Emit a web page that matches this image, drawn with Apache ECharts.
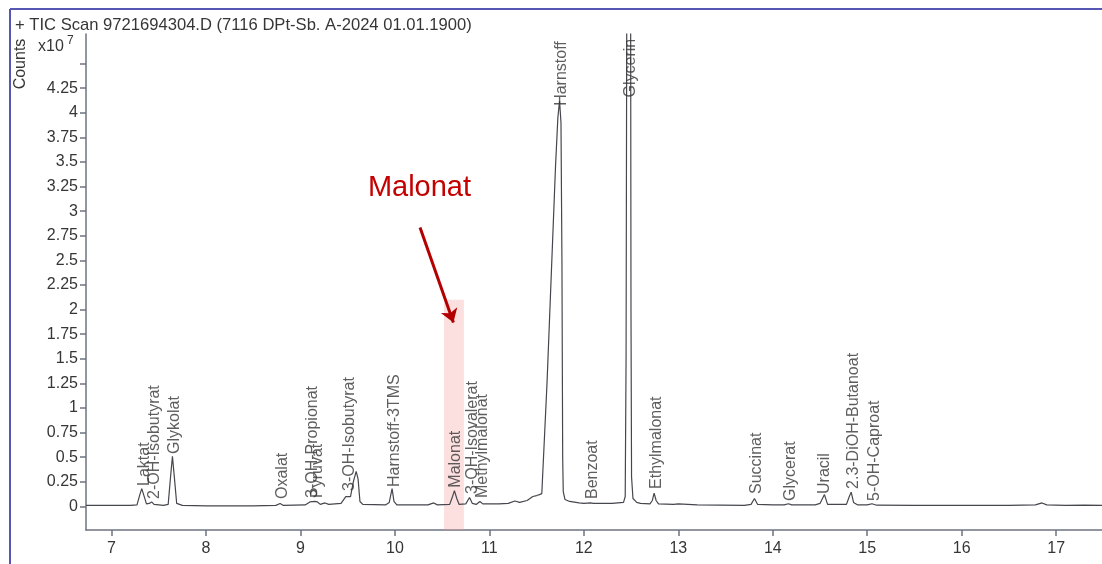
<!DOCTYPE html>
<html>
<head>
<meta charset="utf-8">
<title>TIC Scan</title>
<script src="https://cdn.jsdelivr.net/npm/echarts@6/dist/echarts.min.js"></script>
<style>
  html, body { margin: 0; padding: 0; background: #fff; }
  #chart { width: 1102px; height: 564px; }
</style>
</head>
<body>
<div id="chart"></div>
<script>
// retention time (min) / counts (x10^7)
const traceTime = [
  6.73, 7.0, 7.2, 7.27, 7.30, 7.32, 7.34, 7.37, 7.40, 7.425, 7.45, 7.55, 7.60, 7.625, 7.645, 7.665, 7.69, 7.75,
  8.0, 8.5, 8.74, 8.785, 8.82, 9.05, 9.10, 9.15, 9.18, 9.21, 9.26, 9.30, 9.43, 9.48, 9.50, 9.53, 9.56, 9.59, 9.61,
  9.63, 9.66, 9.90, 9.94, 9.97, 9.99, 10.02, 10.35, 10.41, 10.45, 10.58, 10.61, 10.63, 10.655, 10.68, 10.75, 10.79,
  10.82, 10.86, 10.90, 10.93, 11.10, 11.20, 11.27, 11.32, 11.40, 11.46, 11.50, 11.53, 11.555, 11.61, 11.70, 11.725,
  11.743, 11.758, 11.768, 11.776, 11.782, 11.80, 11.85, 11.95, 12.0, 12.07, 12.10, 12.30, 12.42, 12.438, 12.447,
  12.455, 12.475, 12.495, 12.499, 12.505, 12.52, 12.56, 12.60, 12.70, 12.725, 12.744, 12.765, 12.79, 12.95, 13.0,
  13.2, 13.7, 13.77, 13.806, 13.84, 14.0, 14.12, 14.166, 14.2, 14.45, 14.50, 14.547, 14.58, 14.78, 14.81, 14.83,
  14.855, 14.9, 15.0, 15.05, 15.1, 15.5, 16.0, 16.5, 16.78, 16.85, 16.9, 17.1, 17.3, 17.485
];
const traceCounts = [
  0.01, 0.01, 0.01, 0.015, 0.12, 0.18, 0.12, 0.025, 0.03, 0.045, 0.02, 0.01, 0.02, 0.3, 0.51, 0.3, 0.03, 0.01,
  0.005, 0.005, 0.01, 0.03, 0.01, 0.015, 0.045, 0.05, 0.045, 0.02, 0.035, 0.02, 0.03, 0.10, 0.11, 0.10, 0.25, 0.355, 0.28,
  0.05, 0.02, 0.015, 0.04, 0.18, 0.05, 0.015, 0.015, 0.035, 0.015, 0.02, 0.10, 0.16, 0.08, 0.02, 0.025, 0.09,
  0.03, 0.02, 0.05, 0.025, 0.025, 0.03, 0.055, 0.04, 0.06, 0.10, 0.11, 0.12, 0.13, 1.25, 3.45, 3.95,
  4.12, 3.9, 2.5, 0.5, 0.15, 0.07, 0.05, 0.035, 0.03, 0.035, 0.03, 0.03, 0.04, 0.1, 1.5,
  5.4, 5.8, 5.4, 2.0, 0.3, 0.08, 0.04, 0.03, 0.025, 0.06, 0.135, 0.06, 0.025, 0.02, 0.025,
  0.015, 0.01, 0.02, 0.08, 0.02, 0.015, 0.015, 0.027, 0.015, 0.015, 0.03, 0.12, 0.02, 0.02, 0.1, 0.145,
  0.04, 0.015, 0.015, 0.027, 0.012, 0.01, 0.01, 0.01, 0.015, 0.035, 0.015, 0.01, 0.012, 0.01
];

// peak names, where each label sits and where its text starts
const peakNames = [
  'Laktat', '2-OH-Isobutyrat', 'Glykolat', 'Oxalat', '3-OH-Propionat', 'Pyruvat', '3-OH-Isobutyrat',
  'Harnstoff-3TMS', 'Malonat', '3-OH-Isovalerat', 'Methylmalonat', 'Harnstoff', 'Benzoat', 'Glycerin',
  'Ethylmalonat', 'Succinat', 'Glycerat', 'Uracil', '2.3-DiOH-Butanoat', '5-OH-Caproat'
];
const peakTime = [
  7.323, 7.429, 7.64, 8.784, 9.102, 9.155, 9.49,
  9.97, 10.616, 10.796, 10.902, 11.738, 12.066, 12.469,
  12.744, 13.803, 14.163, 14.523, 14.83, 15.052
];
const peakLabelBase = [
  0.207, 0.075, 0.533, 0.075, 0.085, 0.085, 0.157,
  0.197, 0.19, 0.126, 0.085, 4.07, 0.075, 4.155,
  0.177, 0.126, 0.055, 0.126, 0.177, 0.055
];

const xTicks = [7, 8, 9, 10, 11, 12, 13, 14, 15, 16, 17];
const yTicks = [0, 0.25, 0.5, 0.75, 1, 1.25, 1.5, 1.75, 2, 2.25, 2.5, 2.75, 3, 3.25, 3.5, 3.75, 4, 4.25, 4.5];
const yLabels = yTicks.slice(0, -1); // 4.5 has a tick but no label

// highlighted Malonat window and the arrow pointing at it
const malonatWindow = [10.52, 10.73, 2.1];
const arrowFrom = [10.266, 2.835];
const arrowTo = [10.619, 1.869];
const noteAt = [10.26, 3.24];

const FONT = '"Liberation Sans", Arial, sans-serif';
const TEXT = '#363636';
const AXIS = '#6e7380';

const chart = echarts.init(document.getElementById('chart'));

const option = {
  animation: false,
  backgroundColor: '#fff',
  textStyle: { fontFamily: FONT },
  title: {
    text: '+ TIC Scan 9721694304.D (7116 DPt-Sb. A-2024 01.01.1900)',
    left: 10,
    top: 12,
    textStyle: { fontFamily: FONT, fontSize: 16.6, fontWeight: 'normal', color: TEXT },
  },
  grid: {
    left: 86,
    right: 0,
    top: 34,
    bottom: 34,
  },
  xAxis: {
    type: 'value',
    min: 6.73,
    max: 17.485,
    axisLine: { onZero: false, lineStyle: { color: AXIS, width: 1.5 } },
    axisTick: { length: 6, customValues: xTicks, lineStyle: { color: AXIS, width: 1.5 } },
    axisLabel: { customValues: xTicks, color: TEXT, fontSize: 16, margin: 11, fontFamily: FONT },
    splitLine: { show: false },
  },
  yAxis: {
    type: 'value',
    min: -0.24,
    max: 4.8,
    axisLine: { show: true, lineStyle: { color: AXIS, width: 1.5 } },
    axisTick: { show: true, length: 6, customValues: yTicks, lineStyle: { color: AXIS, width: 1.5 } },
    axisLabel: { customValues: yLabels, color: TEXT, fontSize: 16, margin: 8, fontFamily: FONT },
    splitLine: { show: false },
  },
  graphic: [
    // screenshot frame
    { type: 'line', shape: { x1: 10, y1: 9, x2: 1102, y2: 9 }, style: { stroke: '#5656b4', lineWidth: 2 } },
    { type: 'line', shape: { x1: 10, y1: 9, x2: 10, y2: 564 }, style: { stroke: '#5656b4', lineWidth: 2 } },
    {
      type: 'text', x: 21, y: 64, rotation: Math.PI / 2,
      style: { text: 'Counts', font: '16px ' + FONT, fill: TEXT, align: 'center', verticalAlign: 'middle' },
    },
    {
      type: 'text', x: 38, y: 47,
      style: { text: 'x10', font: '16px ' + FONT, fill: TEXT, align: 'left', verticalAlign: 'middle' },
    },
    {
      type: 'text', x: 67, y: 41,
      style: { text: '7', font: '12px ' + FONT, fill: TEXT, align: 'left', verticalAlign: 'middle' },
    },
  ],
  series: [
    {
      name: 'TIC',
      type: 'line',
      data: traceTime.map((t, i) => [t, traceCounts[i]]),
      symbol: 'none',
      smooth: false,
      clip: true,
      lineStyle: { color: '#45474d', width: 1.2 },
      z: 3,
      markArea: {
        silent: true,
        itemStyle: { color: 'rgba(245,150,150,0.3)' },
        data: [[{ coord: [malonatWindow[0], malonatWindow[2]] }, { coord: [malonatWindow[1], -0.24] }]],
      },
      markLine: {
        silent: true,
        symbolSize: 13,
        label: { show: false },
        lineStyle: { color: '#b30000', width: 3, type: 'solid' },
        data: [[{ coord: arrowFrom, symbol: 'none' }, { coord: arrowTo, symbol: 'arrow' }]],
      },
      markPoint: {
        silent: true,
        symbol: 'circle',
        symbolSize: 1,
        itemStyle: { color: 'rgba(0,0,0,0)' },
        label: {
          show: true,
          position: 'inside',
          formatter: 'Malonat',
          color: '#c40000',
          fontSize: 29,
          fontFamily: FONT,
        },
        data: [{ coord: noteAt }],
      },
    },
    {
      name: 'Peaks',
      type: 'scatter',
      symbolSize: 0,
      silent: true,
      data: peakNames.map((n, i) => ({ name: n, value: [peakTime[i], peakLabelBase[i]] })),
      label: {
        show: true,
        formatter: '{b}',
        position: [2.5, 0],
        rotate: 90,
        align: 'left',
        verticalAlign: 'middle',
        color: TEXT,
        fontSize: 16,
        fontFamily: FONT,
      },
      z: 4,
    },
  ],
};

chart.setOption(option);
</script>
</body>
</html>
